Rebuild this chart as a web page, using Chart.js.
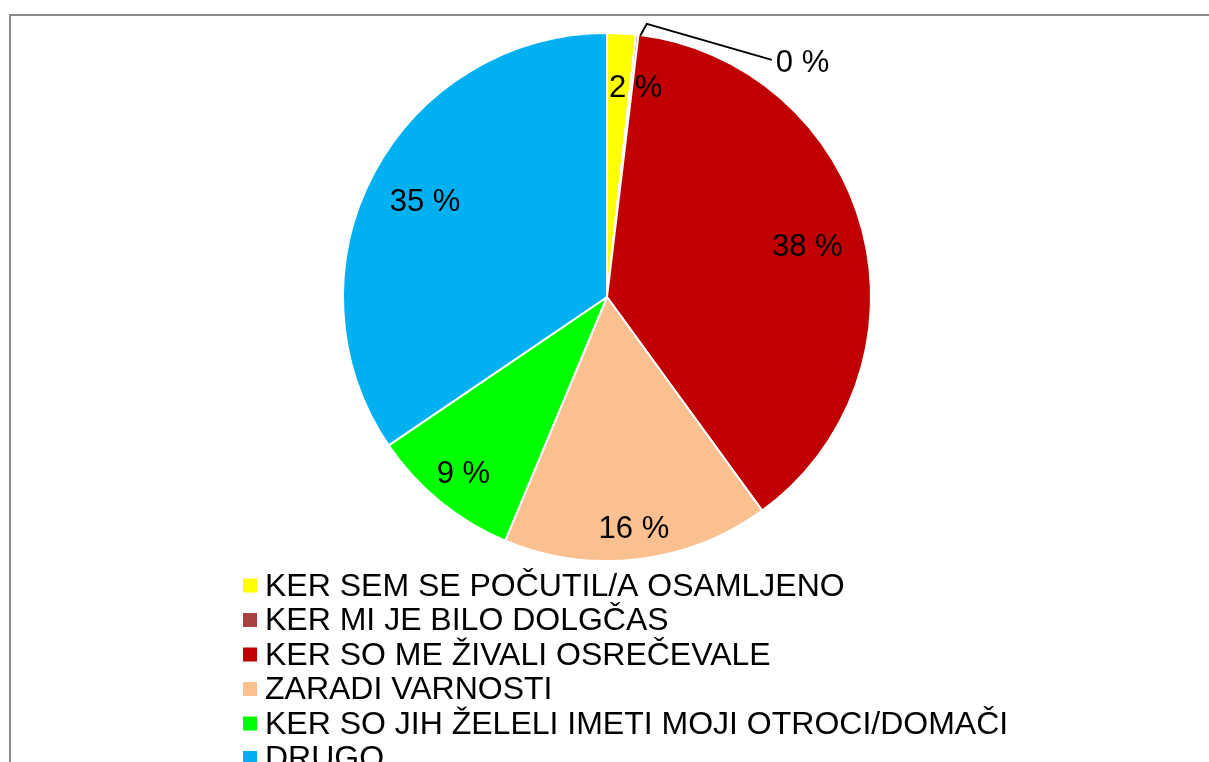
<!DOCTYPE html>
<html>
<head>
<meta charset="utf-8">
<script src="https://cdn.jsdelivr.net/npm/chart.js@4"></script>
<style>
  html, body { margin: 0; padding: 0; background: #fff; overflow: hidden; }
  #wrap { position: absolute; left: 0; top: 0; width: 1209px; height: 762px; }
</style>
</head>
<body>
<div id="wrap"><canvas id="chartPie"></canvas></div>
<script>
const categories = [
  'KER SEM SE POČUTIL/A OSAMLJENO',
  'KER MI JE BILO DOLGČAS',
  'KER SO ME ŽIVALI OSREČEVALE',
  'ZARADI VARNOSTI',
  'KER SO JIH ŽELELI IMETI MOJI OTROCI/DOMAČI',
  'DRUGO'
];
const shares = [1.75, 0.15, 38.1, 16.3, 9.2, 34.5];
const colors = ['#FFFF00', '#A9423F', '#C00000', '#FAC090', '#00FF00', '#00B0F0'];

// where each percentage label sits: fraction of radius, extra x shift, outside with leader
const labelPlace = [
  { r: 0.80, dx: 17 },
  { outside: true },
  { r: 0.78, dx: 1 },
  { r: 0.88, dx: 0 },
  { r: 0.86, dx: 0 },
  { r: 0.78, dx: 0 }
];

const FONT = '"Liberation Sans", Arial, sans-serif';

const framePlugin = {
  id: 'frame',
  beforeDraw(chart) {
    const ctx = chart.ctx;
    ctx.save();
    ctx.strokeStyle = '#8a8a8a';
    ctx.lineWidth = 2;
    ctx.beginPath();
    ctx.moveTo(10, 800);
    ctx.lineTo(10, 15);
    ctx.lineTo(1220, 15);
    ctx.stroke();
    ctx.restore();
  }
};

const pctLabels = {
  id: 'pctLabels',
  afterDatasetsDraw(chart) {
    const ctx = chart.ctx;
    const meta = chart.getDatasetMeta(0);
    ctx.save();
    ctx.font = '31px ' + FONT;
    ctx.fillStyle = '#000';
    meta.data.forEach((arc, i) => {
      const p = arc.getProps(['x', 'y', 'startAngle', 'endAngle', 'outerRadius'], true);
      const mid = (p.startAngle + p.endAngle) / 2;
      const text = Math.round(shares[i]) + ' %';
      const pl = labelPlace[i];
      if (pl.outside) {
        const x0 = p.x + p.outerRadius * Math.cos(mid);
        const y0 = p.y + p.outerRadius * Math.sin(mid);
        const x1 = p.x + (p.outerRadius + 12) * Math.cos(mid + 0.03);
        const y1 = p.y + (p.outerRadius + 12) * Math.sin(mid + 0.03);
        const x2 = x1 + 125, y2 = y1 + 36;
        ctx.strokeStyle = '#000';
        ctx.lineWidth = 2;
        ctx.beginPath();
        ctx.moveTo(x0 + 3, y0 + 1);
        ctx.lineTo(x1, y1);
        ctx.lineTo(x2, y2);
        ctx.stroke();
        ctx.textAlign = 'left';
        ctx.textBaseline = 'middle';
        ctx.fillText(text, x2 + 4, y2 + 4);
      } else {
        const r = p.outerRadius * pl.r;
        ctx.textAlign = 'center';
        ctx.textBaseline = 'middle';
        ctx.fillText(text, p.x + r * Math.cos(mid) + pl.dx, p.y + r * Math.sin(mid) + 2);
      }
    });
    ctx.restore();
  }
};

const legendList = {
  id: 'legendList',
  afterDraw(chart) {
    const ctx = chart.ctx;
    const ds = chart.data.datasets[0];
    ctx.save();
    ctx.font = '32px ' + FONT;
    ctx.textAlign = 'left';
    ctx.textBaseline = 'alphabetic';
    chart.data.labels.forEach((lbl, i) => {
      const base = 595.5 + i * 34.5;
      ctx.fillStyle = ds.backgroundColor[i];
      ctx.fillRect(243, base - 17, 14, 14);
      ctx.fillStyle = '#000';
      ctx.fillText(lbl, 265, base);
    });
    ctx.restore();
  }
};

new Chart(document.getElementById('chartPie'), {
  type: 'pie',
  data: {
    labels: categories,
    datasets: [{
      data: shares,
      backgroundColor: colors,
      borderColor: '#ffffff',
      borderWidth: 2
    }]
  },
  options: {
    responsive: true,
    maintainAspectRatio: false,
    animation: false,
    radius: 264,
    layout: { padding: { left: 5, right: 0, top: 0, bottom: 168 } },
    plugins: {
      legend: { display: false },
      tooltip: { enabled: false }
    }
  },
  plugins: [framePlugin, pctLabels, legendList]
});
</script>
</body>
</html>
